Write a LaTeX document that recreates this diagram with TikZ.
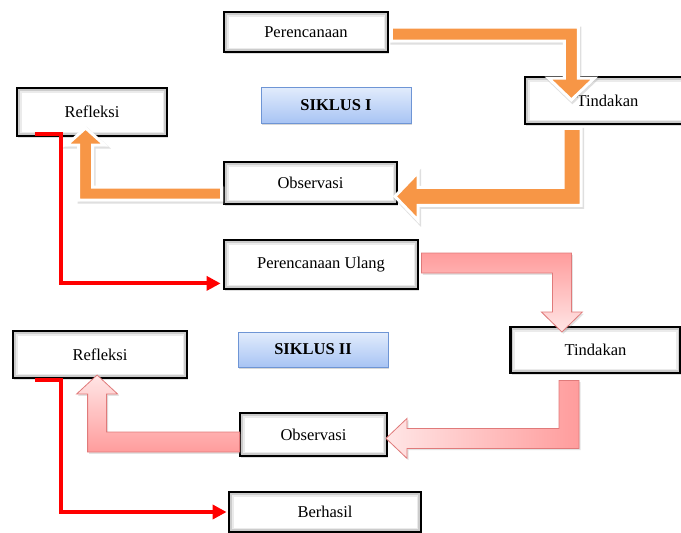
\documentclass[tikz,border=0pt]{standalone}
\usepackage{fontspec}
\setmainfont{Liberation Serif}
\usetikzlibrary{calc,shadows,arrows.meta}
\definecolor{orng}{HTML}{F79646}
\definecolor{pinkdark}{HTML}{FF9C9C}
\definecolor{pinklight}{HTML}{FFE6E6}
\definecolor{pinkedge}{HTML}{E07A7A}
\definecolor{bluetop}{HTML}{E2ECFC}
\definecolor{bluebot}{HTML}{A8C4F4}
\definecolor{blueedge}{HTML}{6E95D5}
\newcommand\diagfont{\fontsize{16.5}{19}\selectfont}
\begin{document}
\begin{tikzpicture}[x=1pt,y=-1pt,
  box/.style={draw=black, line width=2.8pt, fill=white, inner sep=0pt, font=\diagfont,
    drop shadow={shadow xshift=1.2pt, shadow yshift=-1.5pt, opacity=0.25},
    path picture={
      \draw[black!8, line width=9pt] (path picture bounding box.south west) rectangle (path picture bounding box.north east);
      \draw[black!20, line width=5.5pt] (path picture bounding box.south west) rectangle (path picture bounding box.north east);}},
  siklus/.style={draw=blueedge, line width=0.9pt, top color=bluetop, bottom color=bluebot,
    minimum width=150pt, inner sep=0pt, font=\diagfont\bfseries,
    drop shadow={shadow xshift=1.2pt, shadow yshift=-1.8pt, opacity=0.3}},
  orangearrow/.style={fill=orng, draw=white, line width=3pt, line join=miter,
    drop shadow={draw=black!35, line width=4pt, fill=black!35, opacity=0.35, shadow xshift=1pt, shadow yshift=-1.5pt}},
  pinkarrow/.style={draw=pinkedge, line width=0.8pt, line join=miter,
    drop shadow={shadow xshift=1.5pt, shadow yshift=-1.8pt, opacity=0.22}},
  redline/.style={draw=red, line width=4pt, line join=miter,
    -{Triangle[length=14pt,width=14pt]}}
]
\clip (0,0) rectangle (681,533);
\fill[white] (0,0) rectangle (681,533);

% ---- boxes, cycle I
\node[box, minimum width=164pt, minimum height=40pt] (per) at (306,32) {Perencanaan};
\node[box, minimum width=165pt, minimum height=47pt] (tin1) at (607.5,100.5) {Tindakan};
\node[box, minimum width=173pt, minimum height=42pt] (obs1) at (310.5,183) {Observasi};
\node[box, minimum width=150pt, minimum height=48pt] (ref1) at (92,112) {Refleksi};
\node[siklus, minimum height=36pt] (sik1) at (336,105) {SIKLUS I};

% ---- boxes, cycle II
\node[box, minimum width=194pt, minimum height=49pt] (pu) at (321,264.5) {Perencanaan Ulang};
\node[box, minimum width=170pt, minimum height=46pt] (tin2) at (595.5,350) {Tindakan};
\node[siklus, minimum height=35pt] (sik2) at (313,349.5) {SIKLUS II};
\node[box, minimum width=174pt, minimum height=47pt] (ref2) at (100,354.5) {Refleksi};
\node[box, minimum width=147pt, minimum height=43pt] (obs2) at (313.5,434.5) {Observasi};
\node[box, minimum width=192pt, minimum height=40pt] (bh) at (325,512) {Berhasil};

% ---- orange block arrows (cycle I)
\path[orangearrow] ($(per.east)+(2,-5)$) -- ++(187,0) -- ++(0,51) -- ++(16,0)
  -- ++(-23,22) -- ++(-23,-22) -- ++(16,0) -- ++(0,-37) -- ++(-173,0) -- cycle;
\path[orangearrow] ($(tin1.south)+(-44.5,3)$) -- ++(18,0) -- ++(0,77) -- ++(-163,0)
  -- ++(0,15) -- ++(-23,-24) -- ++(23,-24) -- ++(0,15) -- ++(145,0) -- cycle;
\path[orangearrow] ($(obs1.west)+(-1,4)$) -- ++(0,13) -- ++(-143,0) -- ++(0,-55)
  -- ++(-12,0) -- ++(19,-17) -- ++(19,17) -- ++(-12,0) -- ++(0,42) -- cycle;

% ---- pink block arrows (cycle II)
\path[pinkarrow, top color=pinkdark, bottom color=pinklight] ($(pu.east)+(2,-11.5)$) -- ++(150,0) -- ++(0,59) -- ++(11,0)
  -- ++(-20.5,20) -- ++(-20.5,-20) -- ++(11,0) -- ++(0,-39) -- ++(-131,0) -- cycle;
\path[pinkarrow, left color=pinklight, right color=pinkdark] ($(tin2.south)+(-36.5,6)$) -- ++(20,0) -- ++(0,68) -- ++(-172,0)
  -- ++(0,10) -- ++(-21,-20) -- ++(21,-20) -- ++(0,10) -- ++(152,0) -- cycle;
\path[pinkarrow, top color=pinklight, bottom color=pinkdark] ($(obs2.west)+(1,-2.5)$) -- ++(0,20) -- ++(-152,0) -- ++(0,-58)
  -- ++(-11,0) -- ++(20.5,-19) -- ++(20.5,19) -- ++(-11,0) -- ++(0,38) -- cycle;

% ---- red connectors
\draw[redline] ($(ref1.south west)+(19,-3.5)$) -- ++(26,0) |- ([xshift=-2pt,yshift=7pt]pu.south west);
\draw[redline] ($(ref2.south west)+(23,1)$) -- ++(26,0) |- ([xshift=-1pt]bh.west);
\end{tikzpicture}
\end{document}
